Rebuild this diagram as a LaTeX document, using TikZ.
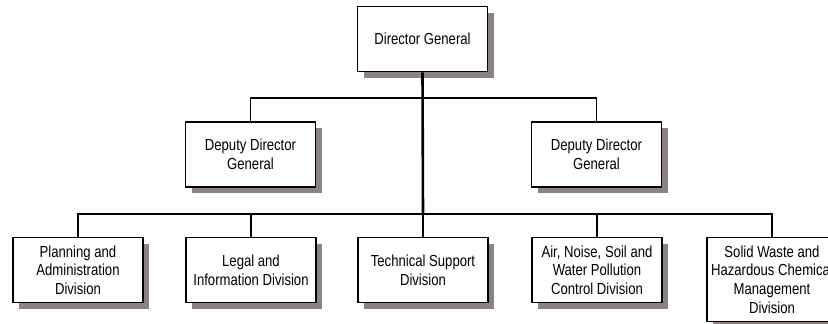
\documentclass[tikz,border=0pt]{standalone}
\usepackage{fontspec}
\setmainfont[FakeStretch=0.82]{Liberation Sans}
\usetikzlibrary{shadows}
\definecolor{shadowgray}{RGB}{140,130,130}
\tikzset{
  orgbox/.style={draw=black, line width=1.8pt, fill=white, align=center,
    minimum width=130pt, minimum height=65pt, inner sep=2pt,
    font=\fontsize{16}{18.7}\selectfont,
    drop shadow={shadow xshift=6pt, shadow yshift=-6pt, fill=shadowgray, opacity=1}},
  link/.style={draw=black, line width=1.5pt},
  trunk/.style={draw=black, line width=2.6pt}
}
\begin{document}
\begin{tikzpicture}[x=1pt, y=-1pt]
  \clip (0,0) rectangle (828,324);
  \fill[white] (0,0) rectangle (828,324);

  % head of the office
  \node[orgbox] (dg) at (422.5,39) {Director General};

  % deputies
  \node[orgbox] (dd1) at (250.5,154.5) {Deputy Director\\General};
  \node[orgbox] (dd2) at (596.5,154.5) {Deputy Director\\General};

  % divisions
  \node[orgbox] (b1) at (78,270) {Planning and\\Administration\\Division};
  \node[orgbox] (b2) at (251,270) {Legal and\\Information Division};
  \node[orgbox] (b3) at (423,270) {Technical Support\\Division};
  \node[orgbox] (b4) at (597,270) {Air, Noise, Soil and\\Water Pollution\\Control Division};
  \node[orgbox, minimum height=84pt] (b5) at (772,279.5) {Solid Waste and\\Hazardous Chemical\\Management\\Division};

  % junction points on the two bars
  \coordinate (topbar) at (423,98);
  \coordinate (botbar) at (423,214);

  % connectors
  \draw[link] (dd1.north) |- (topbar) -| (dd2.north);
  \draw[link] (b1.north) |- (botbar) -| (b5.north);
  \draw[link] (b2.north) -- (b2.north |- botbar);
  \draw[link] (b4.north) -- (b4.north |- botbar);
  \draw[link] (b3.north) -- (botbar);
  \draw[trunk] (dg.south) -- (botbar);
\end{tikzpicture}
\end{document}
